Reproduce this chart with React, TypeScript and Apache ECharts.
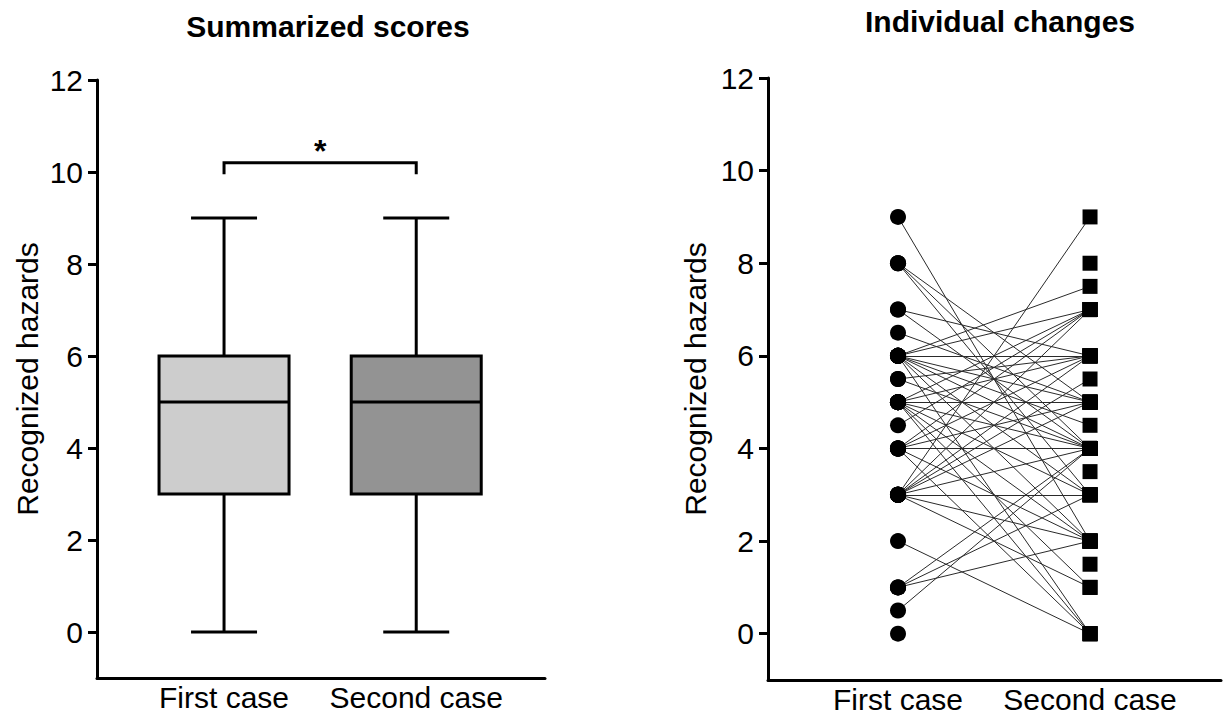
import React, { useEffect, useRef } from "react";
import * as echarts from "echarts";

// ---------- data ----------
const categories = ["First case", "Second case"];
const yTicks = [0, 2, 4, 6, 8, 10, 12];

// Summarized scores (box plot: min, Q1, median, Q3, max)
const boxMin = [0, 0];
const boxQ1 = [3, 3];
const boxMedian = [5, 5];
const boxQ3 = [6, 6];
const boxMax = [9, 9];
const boxColors = ["#cdcdcd", "#939393"];

// significance bracket between the two cases
const sigFrom = 1;
const sigTo = 2;
const sigTop = 10.2;
const sigLeg = 9.95;
const sigLabel = "*";

// Individual changes (paired; null = missing)
const firstCase = [
  9, 8, 8, 8, 7, 7, 6.5, 6, 6, 6, 6, 6, 6, 6, 6, 6, 5.5, 5.5, 5, 5, 5, 5, 5, 5,
  5, 5, 4.5, 4, 4, 4, 4, 4, 4, 3, 3, 3, 3, 3, 3, 3, 3, 3, 2, 1, 1, 1, 0.5, 0,
  null, null, null,
];
const secondCase = [
  2, 5, 4, 3, 6, 4, 5, 7.5, 7, 6, 5, 4.5, 4, 3, 2, 0, 6, 4, 7, 6, 5, 4, 3, 2,
  1, 0, 7, 7, 6, 5, 4, 2, 0, 9, 7, 6, 5.5, 5, 4, 3, 2, 1, 0, 4, 3, 2, 4, null,
  8, 3.5, 1.5,
];

const FONT = "'Liberation Sans', Arial, Helvetica, sans-serif";

export default function App() {
  const ref = useRef<HTMLDivElement>(null);

  useEffect(() => {
    document.body.style.margin = "0";
    if (!ref.current) return;
    const chart = echarts.init(ref.current, null, { renderer: "svg" });

    const boxData = categories.map((_, i) => [
      i + 1,
      boxMin[i],
      boxQ1[i],
      boxMedian[i],
      boxQ3[i],
      boxMax[i],
    ]);

    const pairLines: any[] = [];
    const firstPts: number[][] = [];
    const secondPts: number[][] = [];
    firstCase.forEach((a, i) => {
      const b = secondCase[i];
      if (a !== null) firstPts.push([1, a]);
      if (b !== null) secondPts.push([2, b]);
      if (a !== null && b !== null) pairLines.push({ coords: [[1, a], [2, b]] });
    });

    const yAxisCommon = (gridIndex: number, nameGap: number) => ({
      type: "value",
      gridIndex,
      min: -1,
      max: 12,
      name: "Recognized hazards",
      nameLocation: "middle",
      nameGap,
      nameTextStyle: { fontFamily: FONT, fontSize: 30, color: "#000" },
      axisLine: { show: true, lineStyle: { color: "#000", width: 3 } },
      axisTick: {
        show: true,
        customValues: yTicks,
        length: 9,
        lineStyle: { color: "#000", width: 3 },
      },
      axisLabel: {
        customValues: yTicks,
        margin: 14,
        fontFamily: FONT,
        fontSize: 30,
        color: "#000",
      },
      splitLine: { show: false },
    });

    const xAxisCommon = (gridIndex: number, min: number, max: number) => ({
      type: "value",
      gridIndex,
      min,
      max,
      axisLine: { show: true, onZero: false, lineStyle: { color: "#000", width: 3 } },
      axisTick: { show: false },
      axisLabel: {
        customValues: [1, 2],
        margin: 4,
        fontFamily: FONT,
        fontSize: 30,
        color: "#000",
        formatter: (v: number) => categories[Math.round(v) - 1] ?? "",
      },
      splitLine: { show: false },
    });

    chart.setOption({
      animation: false,
      backgroundColor: "#fff",
      title: [
        {
          text: "Summarized scores",
          left: 323,
          top: 6,
          textAlign: "center",
          textStyle: { fontFamily: FONT, fontSize: 30, fontWeight: "bold", color: "#000" },
        },
        {
          text: "Individual changes",
          left: 995,
          top: 1,
          textAlign: "center",
          textStyle: { fontFamily: FONT, fontSize: 30, fontWeight: "bold", color: "#000" },
        },
      ],
      grid: [
        { left: 97, right: 680, top: 80, bottom: 39 },
        { left: 768, right: 4, top: 78, bottom: 37 },
      ],
      xAxis: [xAxisCommon(0, 0.339, 2.67), xAxisCommon(1, 0.323, 2.682)],
      yAxis: [yAxisCommon(0, 55), yAxisCommon(1, 58)],
      series: [
        {
          type: "custom",
          xAxisIndex: 0,
          yAxisIndex: 0,
          data: boxData,
          renderItem: (params: any, api: any) => {
            const x = api.value(0);
            const p = (v: number) => api.coord([x, v]);
            const [cx, yMin] = p(api.value(1));
            const yQ1 = p(api.value(2))[1];
            const yMed = p(api.value(3))[1];
            const yQ3 = p(api.value(4))[1];
            const yMax = p(api.value(5))[1];
            const hw = 65;
            const cw = 33;
            const ls = { stroke: "#000", lineWidth: 3 };
            return {
              type: "group",
              children: [
                { type: "line", shape: { x1: cx, y1: yMax, x2: cx, y2: yQ3 }, style: ls },
                { type: "line", shape: { x1: cx, y1: yQ1, x2: cx, y2: yMin }, style: ls },
                { type: "line", shape: { x1: cx - cw, y1: yMax, x2: cx + cw, y2: yMax }, style: ls },
                { type: "line", shape: { x1: cx - cw, y1: yMin, x2: cx + cw, y2: yMin }, style: ls },
                {
                  type: "rect",
                  shape: { x: cx - hw, y: yQ3, width: hw * 2, height: yQ1 - yQ3 },
                  style: { fill: boxColors[params.dataIndex], stroke: "#000", lineWidth: 3 },
                },
                { type: "line", shape: { x1: cx - hw, y1: yMed, x2: cx + hw, y2: yMed }, style: ls },
              ],
            };
          },
        },
        {
          type: "custom",
          xAxisIndex: 0,
          yAxisIndex: 0,
          data: [[sigFrom, sigTo, sigTop, sigLeg]],
          renderItem: (_params: any, api: any) => {
            const a = api.coord([api.value(0), api.value(2)]);
            const b = api.coord([api.value(1), api.value(2)]);
            const legY = api.coord([api.value(0), api.value(3)])[1];
            return {
              type: "group",
              children: [
                {
                  type: "polyline",
                  shape: { points: [[a[0], legY], a, b, [b[0], legY]] },
                  style: { stroke: "#000", lineWidth: 3, fill: null },
                },
                {
                  type: "text",
                  x: (a[0] + b[0]) / 2,
                  y: a[1] + 4,
                  style: {
                    text: sigLabel,
                    fontFamily: FONT,
                    fontSize: 32,
                    fontWeight: "bold",
                    fill: "#000",
                    align: "center",
                    verticalAlign: "bottom",
                  },
                },
              ],
            };
          },
        },
        {
          type: "lines",
          coordinateSystem: "cartesian2d",
          xAxisIndex: 1,
          yAxisIndex: 1,
          data: pairLines,
          lineStyle: { color: "#2a2a2a", width: 1, opacity: 1 },
          silent: true,
          z: 1,
        },
        {
          type: "scatter",
          xAxisIndex: 1,
          yAxisIndex: 1,
          data: firstPts,
          symbol: "circle",
          symbolSize: 16,
          itemStyle: { color: "#000", opacity: 1 },
          z: 3,
        },
        {
          type: "scatter",
          xAxisIndex: 1,
          yAxisIndex: 1,
          data: secondPts,
          symbol: "rect",
          symbolSize: 15,
          itemStyle: { color: "#000", opacity: 1 },
          z: 3,
        },
      ],
    });

    return () => chart.dispose();
  }, []);

  return <div ref={ref} style={{ width: 1225, height: 717 }} />;
}
